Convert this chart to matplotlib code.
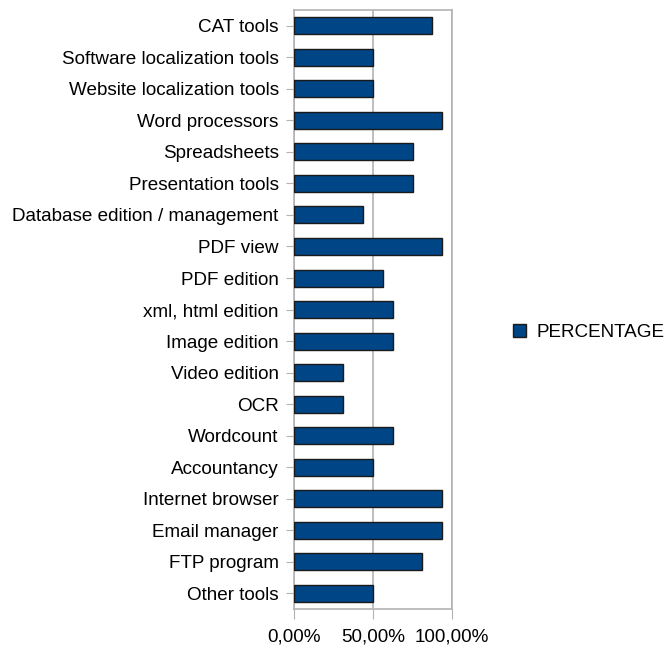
import matplotlib.pyplot as plt
from matplotlib.patches import Patch
from matplotlib.ticker import FuncFormatter

# tools and share of respondents using them
tools = ['CAT tools', 'Software localization tools', 'Website localization tools',
         'Word processors', 'Spreadsheets', 'Presentation tools',
         'Database edition / management', 'PDF view', 'PDF edition',
         'xml, html edition', 'Image edition', 'Video edition', 'OCR',
         'Wordcount', 'Accountancy', 'Internet browser', 'Email manager',
         'FTP program', 'Other tools']
percentage = [0.875, 0.50, 0.50, 0.9375, 0.75, 0.75, 0.4375, 0.9375, 0.5625,
              0.625, 0.625, 0.3125, 0.3125, 0.625, 0.50, 0.9375, 0.9375,
              0.8125, 0.50]
xticks = [0, 0.5, 1.0]

plt.rcParams['font.family'] = ['Liberation Sans', 'DejaVu Sans']
fs = 13.6

fig = plt.figure(figsize=(6.66, 6.48), dpi=100)
ax = fig.add_axes([0.4414, 0.060, 0.2373, 0.9246])

bar_color = '#004586'
ypos = list(range(len(tools)))
ax.barh(ypos, percentage, height=0.54, color=bar_color, edgecolor='#1a1a1a',
        linewidth=1.0, zorder=3)

ax.set_ylim(len(tools) - 0.5, -0.5)
ax.set_yticks(ypos)
ax.set_yticklabels(tools, fontsize=fs)
ax.set_xlim(0, 1.0)
ax.set_xticks(xticks)
ax.xaxis.set_major_formatter(FuncFormatter(lambda v, p: ('%.2f%%' % (v * 100)).replace('.', ',')))
ax.tick_params(axis='x', labelsize=fs, length=7, color='#b3b3b3', pad=7)
ax.tick_params(axis='y', length=6, color='#b3b3b3', pad=5)

ax.grid(axis='x', color='#b3b3b3', linewidth=1.2, zorder=0)
for s in ax.spines.values():
    s.set_color('#b3b3b3')
    s.set_linewidth(1.2)

fig.legend(handles=[Patch(facecolor=bar_color, edgecolor='#1a1a1a', label='PERCENTAGE')],
           loc='center left', bbox_to_anchor=(0.770, 0.487), frameon=False,
           fontsize=fs, handlelength=0.72, handleheight=0.72, handletextpad=0.55,
           borderpad=0, borderaxespad=0)

fig.savefig('out.png', dpi=100)
